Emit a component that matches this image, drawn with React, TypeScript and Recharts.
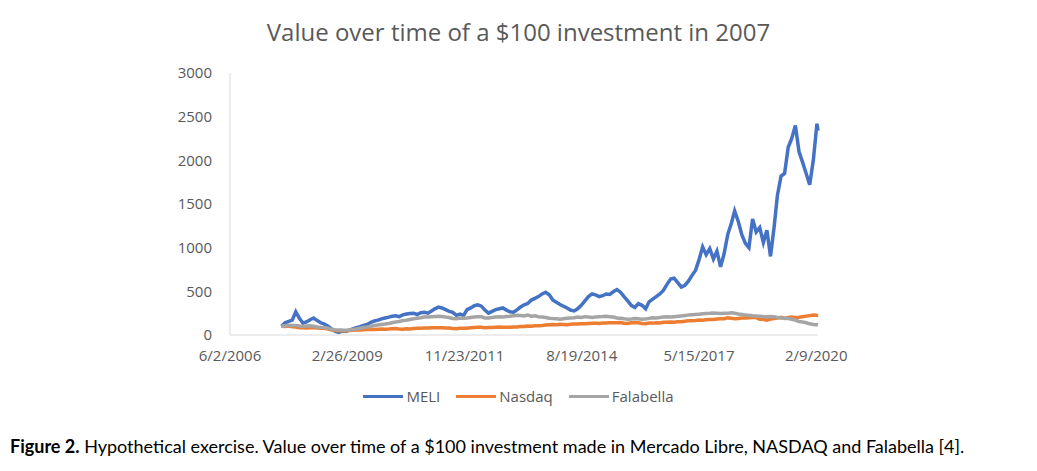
import { CartesianGrid, Line, LineChart, XAxis, YAxis } from "recharts";

// Monthly points (mid-month), last point is the final day shown
const DATES = [
  "2007-08", "2007-09", "2007-10", "2007-11", "2007-12",
  "2008-01", "2008-02", "2008-03", "2008-04", "2008-05", "2008-06", "2008-07", "2008-08", "2008-09", "2008-10", "2008-11", "2008-12",
  "2009-01", "2009-02", "2009-03", "2009-04", "2009-05", "2009-06", "2009-07", "2009-08", "2009-09", "2009-10", "2009-11", "2009-12",
  "2010-01", "2010-02", "2010-03", "2010-04", "2010-05", "2010-06", "2010-07", "2010-08", "2010-09", "2010-10", "2010-11", "2010-12",
  "2011-01", "2011-02", "2011-03", "2011-04", "2011-05", "2011-06", "2011-07", "2011-08", "2011-09", "2011-10", "2011-11", "2011-12",
  "2012-01", "2012-02", "2012-03", "2012-04", "2012-05", "2012-06", "2012-07", "2012-08", "2012-09", "2012-10", "2012-11", "2012-12",
  "2013-01", "2013-02", "2013-03", "2013-04", "2013-05", "2013-06", "2013-07", "2013-08", "2013-09", "2013-10", "2013-11", "2013-12",
  "2014-01", "2014-02", "2014-03", "2014-04", "2014-05", "2014-06", "2014-07", "2014-08", "2014-09", "2014-10", "2014-11", "2014-12",
  "2015-01", "2015-02", "2015-03", "2015-04", "2015-05", "2015-06", "2015-07", "2015-08", "2015-09", "2015-10", "2015-11", "2015-12",
  "2016-01", "2016-02", "2016-03", "2016-04", "2016-05", "2016-06", "2016-07", "2016-08", "2016-09", "2016-10", "2016-11", "2016-12",
  "2017-01", "2017-02", "2017-03", "2017-04", "2017-05", "2017-06", "2017-07", "2017-08", "2017-09", "2017-10", "2017-11", "2017-12",
  "2018-01", "2018-02", "2018-03", "2018-04", "2018-05", "2018-06", "2018-07", "2018-08", "2018-09", "2018-10", "2018-11", "2018-12",
  "2019-01", "2019-02", "2019-03", "2019-04", "2019-05", "2019-06", "2019-07", "2019-08", "2019-09", "2019-10", "2019-11", "2019-12",
  "2020-01", "2020-02", "2020-02-24",
];

const MELI = [
  100, 140, 155, 170, 265,
  190, 135, 150, 175, 195, 165, 140, 125, 100, 70, 40, 30,
  45, 40, 55, 70, 85, 95, 110, 120, 145, 160, 170, 185,
  195, 205, 215, 220, 210, 230, 240, 245, 250, 235, 255, 260,
  250, 275, 300, 320, 310, 290, 270, 260, 225, 240, 225, 290,
  310, 335, 345, 330, 285, 250, 270, 290, 300, 310, 285, 265,
  260, 290, 320, 345, 360, 400, 420, 440, 470, 490, 460, 400,
  375, 350, 330, 310, 285, 275, 300, 340, 390, 440, 470, 460,
  440, 450, 470, 465, 495, 520, 490, 440, 390, 340, 315, 360,
  340, 300, 380, 410, 440, 470, 510, 580, 640, 650, 600, 550,
  570, 620, 680, 740, 860, 1010, 920, 990, 870, 960, 780, 930,
  1150, 1280, 1420, 1300, 1150, 1050, 1000, 1330, 1180, 1230, 1060, 1200,
  900, 1240, 1600, 1820, 1850, 2150, 2250, 2400, 2100, 1980, 1850, 1720,
  2000, 2420, 2340,
];

const NASDAQ = [
  100, 98, 102, 94, 92,
  84, 82, 80, 84, 86, 80, 78, 77, 68, 58, 52, 50,
  50, 46, 50, 54, 56, 58, 61, 62, 63, 64, 66, 68,
  66, 68, 71, 73, 69, 66, 71, 68, 74, 77, 77, 79,
  81, 83, 82, 84, 83, 81, 80, 74, 72, 77, 76, 77,
  82, 86, 89, 88, 84, 86, 87, 90, 92, 88, 88, 89,
  92, 93, 96, 98, 103, 101, 105, 106, 110, 115, 118, 120,
  118, 123, 121, 118, 123, 126, 127, 129, 129, 132, 135, 134,
  132, 138, 137, 139, 141, 140, 143, 135, 133, 141, 143, 140,
  131, 130, 137, 136, 139, 137, 145, 147, 149, 147, 151, 153,
  158, 162, 164, 167, 171, 170, 175, 177, 178, 183, 185, 186,
  196, 192, 186, 189, 195, 196, 198, 200, 199, 180, 181, 170,
  183, 189, 194, 203, 190, 201, 205, 201, 204, 210, 216, 222,
  228, 226, 230,
];

const FALABELLA = [
  100, 105, 112, 108, 110,
  102, 98, 104, 106, 100, 92, 88, 85, 78, 65, 60, 58,
  56, 55, 58, 62, 70, 78, 86, 92, 100, 108, 115, 120,
  125, 132, 140, 150, 155, 165, 170, 178, 185, 192, 198, 205,
  205, 210, 212, 215, 212, 205, 200, 190, 185, 195, 192, 195,
  200, 205, 210, 208, 195, 196, 200, 205, 210, 205, 212, 215,
  220, 225, 222, 218, 228, 215, 220, 210, 205, 200, 192, 188,
  185, 180, 186, 192, 195, 198, 205, 200, 210, 205, 200, 205,
  210, 212, 215, 210, 205, 195, 192, 185, 180, 183, 188, 185,
  180, 182, 190, 198, 195, 200, 205, 208, 206, 210, 215, 218,
  222, 228, 232, 235, 238, 242, 245, 248, 252, 250, 246, 248,
  250, 255, 248, 240, 236, 228, 225, 220, 218, 215, 212, 210,
  212, 208, 200, 195, 192, 188, 180, 170, 155, 150, 140, 128,
  120, 118, 115,
];

const X_TICKS = ["6/2/2006", "2/26/2009", "11/23/2011", "8/19/2014", "5/15/2017", "2/9/2020"];
const Y_TICKS = [0, 500, 1000, 1500, 2000, 2500, 3000];

const SERIES = [
  { key: "meli", name: "MELI", color: "#4472C4" },
  { key: "nasdaq", name: "Nasdaq", color: "#ED7D31" },
  { key: "falabella", name: "Falabella", color: "#A5A5A5" },
];

// Excel-style day serial, so the axis ticks land on the same days
const toSerial = (y: number, m: number, d: number) =>
  Math.round(Date.UTC(y, m - 1, d) / 86400000) + 25569;

const isoToSerial = (s: string) => {
  const [y, m, d] = s.split("-").map(Number);
  return toSerial(y, m, d || 15);
};

const usToSerial = (s: string) => {
  const [m, d, y] = s.split("/").map(Number);
  return toSerial(y, m, d);
};

const tickSerials = X_TICKS.map(usToSerial);
const tickLabel = (v: number) => X_TICKS[tickSerials.indexOf(v)] ?? "";

const data = DATES.map((date, i) => ({
  t: isoToSerial(date),
  meli: MELI[i],
  nasdaq: NASDAQ[i],
  falabella: FALABELLA[i],
}));

const FONT = "'Open Sans', sans-serif";

const App = () => {
  return (
    <div
      style={{
        position: "absolute",
        left: 0,
        top: 0,
        width: 1037,
        height: 471,
        background: "#fff",
        fontFamily: FONT,
      }}
    >
      <div
        style={{
          position: "absolute",
          top: 15,
          left: 0,
          width: 1037,
          textAlign: "center",
          fontSize: 24,
          color: "#595959",
        }}
      >
        Value over time of a $100 investment in 2007
      </div>

      <div style={{ position: "absolute", left: 0, top: 0 }}>
        <LineChart
          width={1037}
          height={380}
          data={data}
          margin={{ top: 73, right: 219, left: 170, bottom: 15 }}
        >
          <CartesianGrid horizontal={false} vertical={false} />
          <XAxis
            dataKey="t"
            type="number"
            domain={[tickSerials[0], tickSerials[tickSerials.length - 1]]}
            ticks={tickSerials}
            tickFormatter={tickLabel}
            tickLine={false}
            axisLine={{ stroke: "#D9D9D9" }}
            tick={{ fontSize: 15, fill: "#595959", fontFamily: FONT }}
            tickMargin={9}
            height={30}
            interval={0}
          />
          <YAxis
            domain={[0, 3000]}
            ticks={Y_TICKS}
            tickLine={false}
            axisLine={{ stroke: "#D9D9D9" }}
            tick={{ fontSize: 15, fill: "#595959", fontFamily: FONT }}
            tickMargin={12}
            width={60}
            interval={0}
          />
          {SERIES.map((s) => (
            <Line
              key={s.key}
              dataKey={s.key}
              name={s.name}
              stroke={s.color}
              strokeWidth={3.5}
              dot={false}
              type="linear"
              isAnimationActive={false}
            />
          ))}
        </LineChart>
      </div>

      <div
        style={{
          position: "absolute",
          top: 386,
          left: 0,
          width: 1037,
          display: "flex",
          justifyContent: "center",
          gap: 16,
          fontSize: 15,
          color: "#595959",
        }}
      >
        {SERIES.map((s) => (
          <div key={s.key} style={{ display: "flex", alignItems: "center" }}>
            <span
              style={{
                display: "inline-block",
                width: 40,
                height: 3,
                background: s.color,
                marginRight: 3,
              }}
            />
            <span>{s.name}</span>
          </div>
        ))}
      </div>

      <div
        style={{
          position: "absolute",
          top: 435,
          left: 10,
          fontFamily: "Lato, sans-serif",
          fontSize: 18,
          color: "#000",
          whiteSpace: "nowrap",
        }}
      >
        <b>Figure 2.</b> Hypothetical exercise. Value over time of a $100 investment made in Mercado
        Libre, NASDAQ and Falabella [4].
      </div>
    </div>
  );
};

export default App;
